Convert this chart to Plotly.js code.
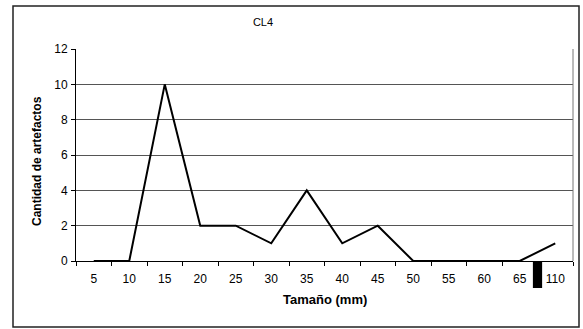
<!DOCTYPE html>
<html>
<head>
<meta charset="utf-8">
<script src="https://cdn.plot.ly/plotly-3.0.1.min.js"></script>
<style>
html,body{margin:0;padding:0;background:#fff;}
#chart{width:583px;height:329px;}
</style>
</head>
<body>
<div id="chart"></div>
<script>
var sizes = ['5','10','15','20','25','30','35','40','45','50','55','60','65','110'];
var counts = [0, 0, 10, 2, 2, 1, 4, 1, 2, 0, 0, 0, 0, 1];
var yTicks = [0, 2, 4, 6, 8, 10, 12];
var chartTitle = 'CL4';
var xTitle = 'Tamaño (mm)';
var yTitle = 'Cantidad de artefactos';

var font = 'Liberation Sans, Arial, sans-serif';

var trace = {
  type: 'scatter',
  mode: 'lines',
  x: sizes,
  y: counts,
  line: {color: '#000', width: 2},
  hoverinfo: 'skip'
};

var layout = {
  width: 583,
  height: 329,
  margin: {l: 76, r: 10, t: 49, b: 68},
  paper_bgcolor: '#fff',
  plot_bgcolor: '#fff',
  showlegend: false,
  font: {family: font, size: 12, color: '#000'},
  title: {
    text: chartTitle,
    font: {family: font, size: 11, color: '#000'},
    xref: 'container', x: 263/583, xanchor: 'center',
    yref: 'container', y: 1 - 22/329, yanchor: 'middle'
  },
  xaxis: {
    type: 'category',
    range: [-0.5, 13.5],
    tickson: 'boundaries',
    ticks: 'outside',
    ticklen: 4,
    tickcolor: '#000',
    ticklabelstandoff: 7,
    showline: true,
    linecolor: '#000',
    linewidth: 1,
    showgrid: false,
    zeroline: false,
    tickfont: {family: font, size: 12, color: '#000'},
    fixedrange: true
  },
  yaxis: {
    range: [0, 12],
    tickvals: yTicks,
    ticks: 'outside',
    ticklen: 4,
    tickcolor: '#000',
    ticklabelstandoff: 1,
    showline: true,
    linecolor: '#000',
    linewidth: 1,
    showgrid: true,
    gridcolor: '#555',
    gridwidth: 1,
    zeroline: false,
    tickfont: {family: font, size: 12, color: '#000'},
    fixedrange: true
  },
  annotations: [
    {
      text: '<b>' + xTitle + '</b>',
      xref: 'paper', yref: 'paper',
      x: 0.5, y: (261 - 299) / 212,
      xanchor: 'center', yanchor: 'middle',
      showarrow: false,
      font: {family: font, size: 13, color: '#000'}
    },
    {
      text: '<b>' + yTitle + '</b>',
      xref: 'paper', yref: 'paper',
      x: (37 - 76) / 497, y: (261 - 161) / 212,
      xanchor: 'center', yanchor: 'middle',
      textangle: -90,
      showarrow: false,
      font: {family: font, size: 12, color: '#000'}
    }
  ],
  shapes: [
    // outer chart frame
    {type: 'rect', xref: 'paper', yref: 'paper',
     x0: (13 - 76) / 497, x1: (579 - 76) / 497,
     y0: (261 - 327) / 212, y1: (261 - 6) / 212,
     line: {color: '#222', width: 1.5}, fillcolor: 'rgba(0,0,0,0)', layer: 'below'},
    // plot area right border
    {type: 'line', xref: 'paper', yref: 'paper',
     x0: 1, x1: 1, y0: 0, y1: 1,
     line: {color: '#777', width: 1}},
    // axis break marker between 65 and 110
    {type: 'rect', xref: 'x', yref: 'paper',
     x0: 12.5 - 0.13, x1: 12.5 + 0.13,
     y0: (261 - 288) / 212, y1: 0,
     line: {width: 0}, fillcolor: '#000', layer: 'above'}
  ]
};

Plotly.newPlot('chart', [trace], layout, {displayModeBar: false, staticPlot: true});
</script>
</body>
</html>
